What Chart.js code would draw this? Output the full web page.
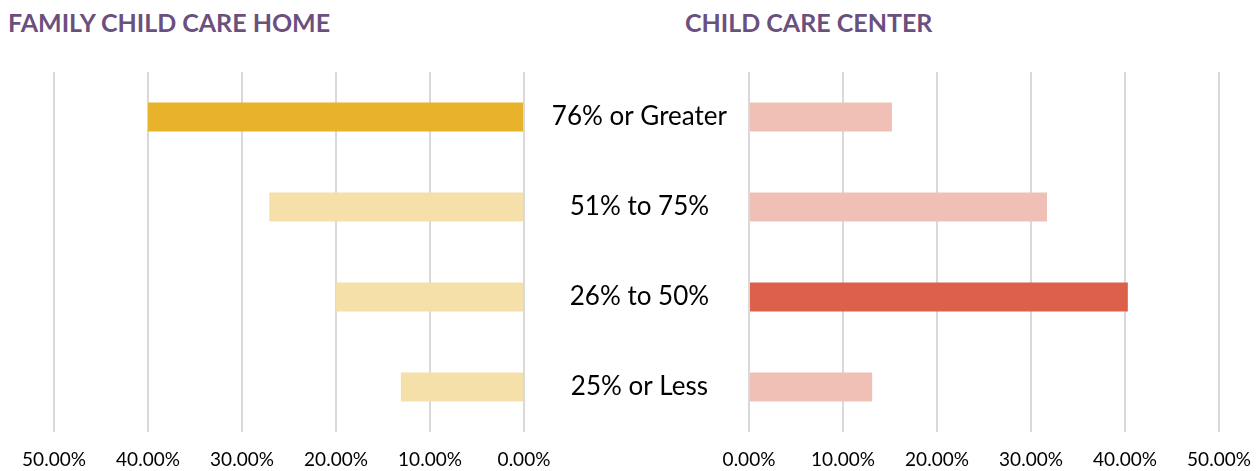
<!DOCTYPE html>
<html>
<head>
<meta charset="utf-8">
<script src="https://cdn.jsdelivr.net/npm/chart.js@4"></script>
<style>
  body { margin: 0; background: #fff; width: 1257px; height: 471px; position: relative; overflow: hidden; font-family: Lato, sans-serif; }
  .title { position: absolute; top: 7px; font-weight: bold; font-size: 25px; color: #6b4f7e; white-space: nowrap; }
  .box { position: absolute; top: 0; height: 471px; }
</style>
</head>
<body>
<div class="title" style="left:8px">FAMILY CHILD CARE HOME</div>
<div class="title" style="left:685px">CHILD CARE CENTER</div>
<div class="box" style="left:-100px; width:700px"><canvas id="homeChart"></canvas></div>
<div class="box" style="left:524px; width:800px"><canvas id="centerChart"></canvas></div>
<script>
const categories = ['76% or Greater', '51% to 75%', '26% to 50%', '25% or Less'];
const homeValues = [40.0, 27.1, 20.0, 13.1];
const centerValues = [15.2, 31.7, 40.3, 13.1];
const tickValues = [0, 10, 20, 30, 40, 50];

const gridColor = '#d9d9d9';
const tickFont = { family: 'Lato', size: 19 };

function xAxis(reverse) {
    return {
        type: 'linear',
        reverse: reverse,
        min: tickValues[0],
        max: tickValues[tickValues.length - 1],
        afterBuildTicks: function(axis) {
            axis.ticks = tickValues.map(v => ({ value: v }));
        },
        afterFit: function(axis) { axis.height = 39; },
        grid: { color: gridColor, lineWidth: 2, drawTicks: false },
        border: { display: false },
        ticks: {
            color: '#000',
            font: tickFont,
            padding: 16,
            maxRotation: 0,
            autoSkip: false,
            callback: v => v.toFixed(2) + '%'
        }
    };
}

function drawChart(id, values, colors, reverse, showLabels, padding) {
    const ctx = document.getElementById(id).getContext('2d');
    return new Chart(ctx, {
        type: 'bar',
        data: {
            labels: categories,
            datasets: [{
                data: values,
                backgroundColor: colors,
                barPercentage: 0.32,
                categoryPercentage: 1
            }]
        },
        options: {
            indexAxis: 'y',
            responsive: true,
            maintainAspectRatio: false,
            animation: false,
            layout: { padding: padding },
            plugins: { legend: { display: false }, tooltip: { enabled: false } },
            scales: {
                x: xAxis(reverse),
                y: {
                    display: showLabels,
                    grid: { display: false, drawTicks: false },
                    border: { display: false },
                    ticks: {
                        color: '#000',
                        font: { family: 'Lato', size: 26 },
                        crossAlign: 'center',
                        padding: 22
                    },
                    afterFit: function(axis) { if (showLabels) axis.width = 225; }
                }
            }
        }
    });
}

drawChart('homeChart', homeValues,
    ['#e8b22b', '#f5e0aa', '#f5e0aa', '#f5e0aa'], true, false,
    { left: 154, right: 76, top: 72, bottom: 0 });

drawChart('centerChart', centerValues,
    ['#f0bfb6', '#f0bfb6', '#dc604a', '#f0bfb6'], false, true,
    { left: 0, right: 105, top: 72, bottom: 0 });
</script>
</body>
</html>
